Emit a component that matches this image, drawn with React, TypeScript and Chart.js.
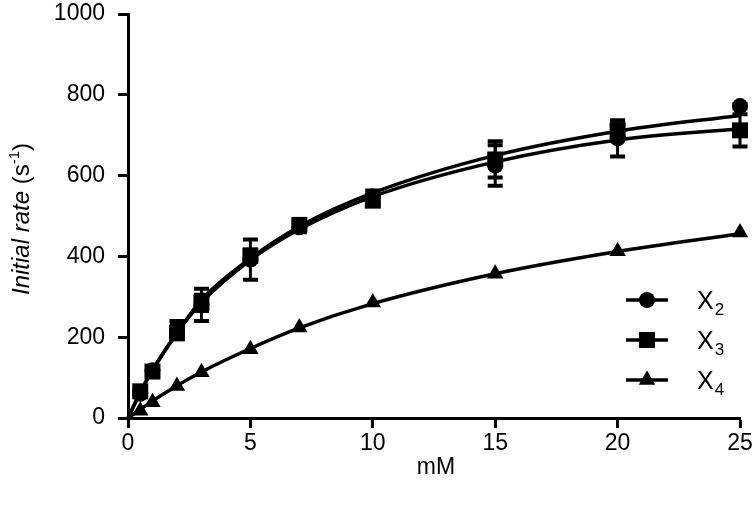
import React, { useEffect, useRef } from 'react';
import { Chart, registerables } from 'chart.js';

Chart.register(...registerables);

// ---- data ----
const curveX = [0, 0.5, 1, 2, 3, 5, 7, 10, 15, 20, 25];
const curveX2 = [0, 63, 118, 210, 292, 395, 474, 557, 650, 710, 749];
const curveX3 = [0, 63, 119, 211, 286, 391, 467, 548, 634, 688, 716];
const curveX4 = [0, 21, 42, 80, 114, 172, 223, 283, 357, 412, 456];

const pointX = [0.5, 1, 2, 3, 5, 7, 10, 15, 20, 25];
const x2Vals = [60, 118, 225, 280, 392, 472, 548, 625, 692, 772];
const x2Err = [5, 8, 15, 40, 50, 12, 15, 50, 45, 5];
const x3Vals = [66, 115, 210, 285, 402, 478, 538, 640, 712, 712];
const x3Err = [5, 8, 15, 20, 15, 10, 10, 45, 15, 40];
const x4Vals = [18, 39, 79, 113, 170, 224, 286, 357, 413, 459];

const xTicks = [0, 5, 10, 15, 20, 25];
const yTicks = [0, 200, 400, 600, 800, 1000];
const legendNames = ['X', 'X', 'X'];
const legendSubs = ['2', '3', '4'];
const xTitle = 'mM';
const yTitleMain = 'Initial rate';
const yTitleUnit = ' (s';
const yTitleSup = '-1';
const yTitleEnd = ')';

const FAM = '"Liberation Sans", Arial, Helvetica, sans-serif';

const toXY = (xs: number[], ys: number[]) => xs.map((x, i) => ({ x, y: ys[i] }));

const errorBarPlugin = {
  id: 'errorBars',
  afterDatasetsDraw(chart: any) {
    const ctx = chart.ctx;
    const xs = chart.scales.x;
    const ys = chart.scales.y;
    const sets: [number[], number[]][] = [
      [x2Vals, x2Err],
      [x3Vals, x3Err],
    ];
    ctx.save();
    ctx.strokeStyle = '#000';
    for (const [vals, errs] of sets) {
      vals.forEach((v, i) => {
        const e = errs[i];
        if (!e) return;
        const px = xs.getPixelForValue(pointX[i]);
        const top = ys.getPixelForValue(v + e);
        const bot = ys.getPixelForValue(v - e);
        ctx.lineWidth = 3;
        ctx.beginPath();
        ctx.moveTo(px, top);
        ctx.lineTo(px, bot);
        ctx.stroke();
        ctx.lineWidth = 4;
        ctx.beginPath();
        ctx.moveTo(px - 7.5, top);
        ctx.lineTo(px + 7.5, top);
        ctx.moveTo(px - 7.5, bot);
        ctx.lineTo(px + 7.5, bot);
        ctx.stroke();
      });
    }
    ctx.restore();
  },
};

const textPlugin = {
  id: 'customText',
  afterDraw(chart: any) {
    const ctx = chart.ctx;
    const ca = chart.chartArea;
    ctx.save();
    ctx.fillStyle = '#000';
    ctx.strokeStyle = '#000';

    // x title
    ctx.font = `23px ${FAM}`;
    ctx.textAlign = 'center';
    ctx.textBaseline = 'middle';
    ctx.fillText(xTitle, (ca.left + ca.right) / 2 + 2, 468);

    // y title (rotated, mixed styles)
    const segs = [
      { t: yTitleMain, font: `italic 24px ${FAM}`, dy: 0 },
      { t: yTitleUnit, font: `24px ${FAM}`, dy: 0 },
      { t: yTitleSup, font: `15px ${FAM}`, dy: -10 },
      { t: yTitleEnd, font: `24px ${FAM}`, dy: 0 },
    ];
    let total = 0;
    const widths = segs.map((s) => {
      ctx.font = s.font;
      const w = ctx.measureText(s.t).width;
      total += w;
      return w;
    });
    ctx.translate(29, 219);
    ctx.rotate(-Math.PI / 2);
    ctx.textAlign = 'left';
    ctx.textBaseline = 'alphabetic';
    let cx = -total / 2;
    segs.forEach((s, i) => {
      ctx.font = s.font;
      ctx.fillText(s.t, cx, s.dy);
      cx += widths[i];
    });
    ctx.setTransform(1, 0, 0, 1, 0, 0);

    // legend
    const rows = [300, 340, 380];
    const styles = ['circle', 'rect', 'triangle'];
    rows.forEach((ry, i) => {
      ctx.lineWidth = 3.5;
      ctx.beginPath();
      ctx.moveTo(626, ry);
      ctx.lineTo(668, ry);
      ctx.stroke();
      const mx = 647;
      ctx.beginPath();
      if (styles[i] === 'circle') {
        ctx.arc(mx, ry, 8, 0, Math.PI * 2);
      } else if (styles[i] === 'rect') {
        ctx.rect(mx - 8, ry - 8, 16, 16);
      } else {
        const r = 9.5;
        ctx.moveTo(mx, ry - r);
        ctx.lineTo(mx + r * Math.sin((2 * Math.PI) / 3), ry + r / 2);
        ctx.lineTo(mx - r * Math.sin((2 * Math.PI) / 3), ry + r / 2);
        ctx.closePath();
      }
      ctx.fill();
      ctx.font = `25px ${FAM}`;
      ctx.textAlign = 'left';
      ctx.textBaseline = 'alphabetic';
      ctx.fillText(legendNames[i], 697, ry + 9);
      const w = ctx.measureText(legendNames[i]).width;
      ctx.font = `17px ${FAM}`;
      ctx.fillText(legendSubs[i], 697 + w + 1, ry + 15);
    });
    ctx.restore();
  },
};

export default function App() {
  const ref = useRef<HTMLCanvasElement | null>(null);
  useEffect(() => {
    if (!ref.current) return;
    const lineDs = (ys: number[]) => ({
      type: 'line' as const,
      data: toXY(curveX, ys),
      borderColor: '#000',
      backgroundColor: '#000',
      borderWidth: 3.5,
      pointRadius: 0,
      showLine: true,
      cubicInterpolationMode: 'monotone' as const,
      clip: false as any,
    });
    const ptDs = (ys: number[], style: string, r: number) => ({
      type: 'scatter' as const,
      data: toXY(pointX, ys),
      showLine: false,
      pointStyle: style,
      pointRadius: r,
      pointBackgroundColor: '#000',
      pointBorderColor: '#000',
      pointBorderWidth: 0,
      clip: false as any,
    });
    const chart = new Chart(ref.current, {
      type: 'scatter',
      data: {
        datasets: [
          lineDs(curveX2),
          lineDs(curveX3),
          lineDs(curveX4),
          ptDs(x2Vals, 'circle', 8),
          ptDs(x3Vals, 'rect', 11.3),
          ptDs(x4Vals, 'triangle', 9.5),
        ] as any,
      },
      options: {
        animation: false,
        responsive: false,
        events: [],
        layout: { padding: { top: 14, right: 12, left: 0, bottom: 0 } },
        plugins: {
          legend: { display: false },
          tooltip: { enabled: false },
          title: { display: false },
        },
        scales: {
          x: {
            type: 'linear',
            min: 0,
            max: 25,
            afterFit: (s: any) => {
              s.height = 89;
              s.paddingLeft = 0;
              s.paddingRight = 0;
            },
            afterBuildTicks: (s: any) => {
              s.ticks = xTicks.map((v) => ({ value: v }));
            },
            ticks: {
              color: '#000',
              font: { family: FAM, size: 23 },
              padding: 2,
              maxRotation: 0,
              autoSkip: false,
              callback: (v: any) => String(v),
            },
            grid: {
              display: true,
              drawOnChartArea: false,
              drawTicks: true,
              tickLength: 10,
              tickWidth: 3,
              tickColor: '#000',
            },
            border: { display: true, color: '#000', width: 3 },
          },
          y: {
            type: 'linear',
            min: 0,
            max: 1000,
            afterFit: (s: any) => {
              s.width = 128;
              s.paddingTop = 0;
              s.paddingBottom = 0;
            },
            afterBuildTicks: (s: any) => {
              s.ticks = yTicks.map((v) => ({ value: v }));
            },
            ticks: {
              color: '#000',
              font: { family: FAM, size: 23 },
              padding: 13,
              autoSkip: false,
              callback: (v: any) => String(v),
            },
            grid: {
              display: true,
              drawOnChartArea: false,
              drawTicks: true,
              tickLength: 10,
              tickWidth: 3,
              tickColor: '#000',
            },
            border: { display: true, color: '#000', width: 3 },
          },
        },
      },
      plugins: [errorBarPlugin, textPlugin],
    });
    return () => chart.destroy();
  }, []);
  return (
    <div style={{ position: 'fixed', left: 0, top: 0, width: 752, height: 507, background: '#fff' }}>
      <canvas ref={ref} width={752} height={507} />
    </div>
  );
}
